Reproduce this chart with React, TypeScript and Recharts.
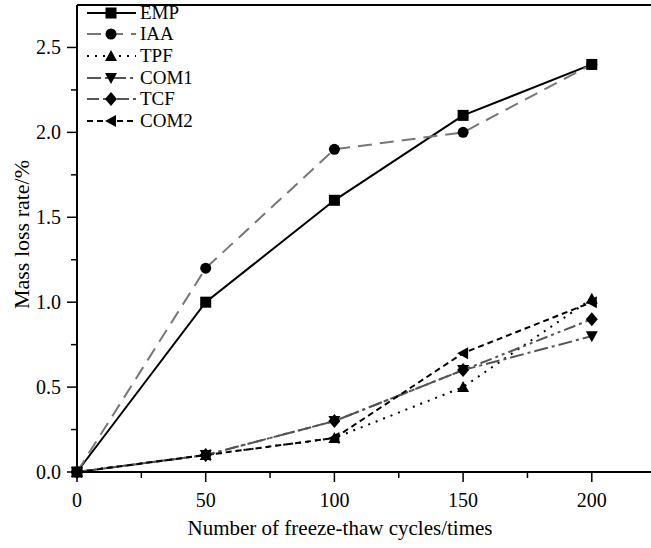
import React from 'react';
import { LineChart, Line, XAxis, YAxis, ReferenceLine, Legend } from 'recharts';

const cycles = [0, 50, 100, 150, 200];
const emp = [0, 1.0, 1.6, 2.1, 2.4];
const iaa = [0, 1.2, 1.9, 2.0, 2.4];
const tpf = [0, 0.1, 0.2, 0.5, 1.02];
const com1 = [0, 0.1, 0.3, 0.6, 0.8];
const tcf = [0, 0.1, 0.3, 0.6, 0.9];
const com2 = [0, 0.1, 0.2, 0.7, 1.0];

const xTicks = [0, 25, 50, 75, 100, 125, 150, 175, 200];
const yTicks = [0, 0.25, 0.5, 0.75, 1.0, 1.25, 1.5, 1.75, 2.0, 2.25, 2.5];

const FONT = '"Liberation Serif", "Times New Roman", serif';

const data = cycles.map((c, i) => ({
  cycle: c,
  EMP: emp[i],
  IAA: iaa[i],
  TPF: tpf[i],
  COM1: com1[i],
  TCF: tcf[i],
  COM2: com2[i],
}));

type Shape = 'square' | 'circle' | 'up' | 'down' | 'diamond' | 'left';

const series: { key: string; color: string; dash?: string; shape: Shape }[] = [
  { key: 'EMP', color: '#000', shape: 'square' },
  { key: 'IAA', color: '#777', dash: '14 8', shape: 'circle' },
  { key: 'TPF', color: '#000', dash: '2 6', shape: 'up' },
  { key: 'COM1', color: '#555', dash: '14 4 3 4', shape: 'down' },
  { key: 'TCF', color: '#555', dash: '12 4 3 4 3 4', shape: 'diamond' },
  { key: 'COM2', color: '#000', dash: '6 4', shape: 'left' },
];

const Marker = ({ cx, cy, shape }: { cx: number; cy: number; shape: Shape }) => {
  const s = 6;
  switch (shape) {
    case 'square':
      return <rect x={cx - 5.5} y={cy - 5.5} width={11} height={11} fill="#000" />;
    case 'circle':
      return <circle cx={cx} cy={cy} r={5.5} fill="#000" />;
    case 'up':
      return <polygon points={`${cx},${cy - s} ${cx - s},${cy + s - 1} ${cx + s},${cy + s - 1}`} fill="#000" />;
    case 'down':
      return <polygon points={`${cx},${cy + s} ${cx - s},${cy - s + 1} ${cx + s},${cy - s + 1}`} fill="#000" />;
    case 'diamond':
      return <polygon points={`${cx},${cy - s - 1} ${cx + s},${cy} ${cx},${cy + s + 1} ${cx - s},${cy}`} fill="#000" />;
    default:
      return <polygon points={`${cx - s},${cy} ${cx + s - 1},${cy - s} ${cx + s - 1},${cy + s}`} fill="#000" />;
  }
};

const XTick = (props: any) => {
  const { x, y, payload } = props;
  const major = payload.value % 50 === 0;
  return (
    <g>
      <line x1={x} x2={x} y1={y} y2={y + (major ? 10 : 6)} stroke="#000" strokeWidth={1.5} />
      {major && (
        <text x={x} y={y + 35} textAnchor="middle" fontFamily={FONT} fontSize={20} fill="#000">
          {payload.value}
        </text>
      )}
    </g>
  );
};

const YTick = (props: any) => {
  const { x, y, payload } = props;
  const v = payload.value;
  const major = Math.abs(v * 2 - Math.round(v * 2)) < 1e-6;
  return (
    <g>
      <line x1={x} x2={x - (major ? 10 : 6)} y1={y} y2={y} stroke="#000" strokeWidth={1.5} />
      {major && (
        <text x={x - 16} y={y} dy="0.35em" textAnchor="end" fontFamily={FONT} fontSize={20} fill="#000">
          {v.toFixed(1)}
        </text>
      )}
    </g>
  );
};

const LegendBox = () => (
  <div style={{ fontFamily: FONT, fontSize: 19, color: '#000' }}>
    {series.map((s) => (
      <div key={s.key} style={{ display: 'flex', alignItems: 'center', height: 21.6 }}>
        <svg width={52} height={20}>
          <line x1={1} x2={50} y1={10} y2={10} stroke={s.color} strokeWidth={2} strokeDasharray={s.dash} />
          <Marker cx={25} cy={10} shape={s.shape} />
        </svg>
        <span style={{ marginLeft: 2 }}>{s.key}</span>
      </div>
    ))}
  </div>
);

const App = () => {
  return (
    <div style={{ position: 'absolute', left: 0, top: 0, background: '#fff' }}>
      <LineChart width={651} height={548} data={data} margin={{ top: 5, right: 0, left: 0, bottom: 0 }}>
        <XAxis
          dataKey="cycle"
          type="number"
          domain={[0, 223]}
          ticks={xTicks}
          interval={0}
          tickLine={false}
          tickSize={0}
          tickMargin={0}
          tick={<XTick />}
          height={76}
          axisLine={{ stroke: '#000', strokeWidth: 2 }}
          label={{
            content: (p: any) => (
              <text
                x={p.viewBox.x + p.viewBox.width / 2 - 24}
                y={p.viewBox.y + 63}
                textAnchor="middle"
                fontFamily={FONT}
                fontSize={21}
                fill="#000"
              >
                Number of freeze-thaw cycles/times
              </text>
            ),
          }}
        />
        <YAxis
          type="number"
          domain={[0, 2.75]}
          ticks={yTicks}
          interval={0}
          tickLine={false}
          tickSize={0}
          tickMargin={0}
          tick={<YTick />}
          width={77}
          axisLine={{ stroke: '#000', strokeWidth: 2 }}
          label={{
            content: (p: any) => {
              const cx = p.viewBox.x + 21;
              const cy = p.viewBox.y + p.viewBox.height / 2 - 4;
              return (
                <text
                  x={cx}
                  y={cy}
                  transform={`rotate(-90, ${cx}, ${cy})`}
                  textAnchor="middle"
                  dominantBaseline="central"
                  fontFamily={FONT}
                  fontSize={22}
                  fill="#000"
                >
                  Mass loss rate/%
                </text>
              );
            },
          }}
        />
        <ReferenceLine y={2.75} stroke="#000" strokeWidth={2} />
        {series.map((s) => (
          <Line
            key={s.key}
            type="linear"
            dataKey={s.key}
            stroke={s.color}
            strokeWidth={2}
            strokeDasharray={s.dash}
            dot={(p: any) => <Marker key={`${s.key}-${p.index}`} cx={p.cx} cy={p.cy} shape={s.shape} />}
            activeDot={false}
            isAnimationActive={false}
          />
        ))}
        <Legend
          layout="vertical"
          align="center"
          verticalAlign="middle"
          wrapperStyle={{ left: 86, top: 2, width: 130 }}
          content={() => <LegendBox />}
        />
      </LineChart>
    </div>
  );
};

export default App;
